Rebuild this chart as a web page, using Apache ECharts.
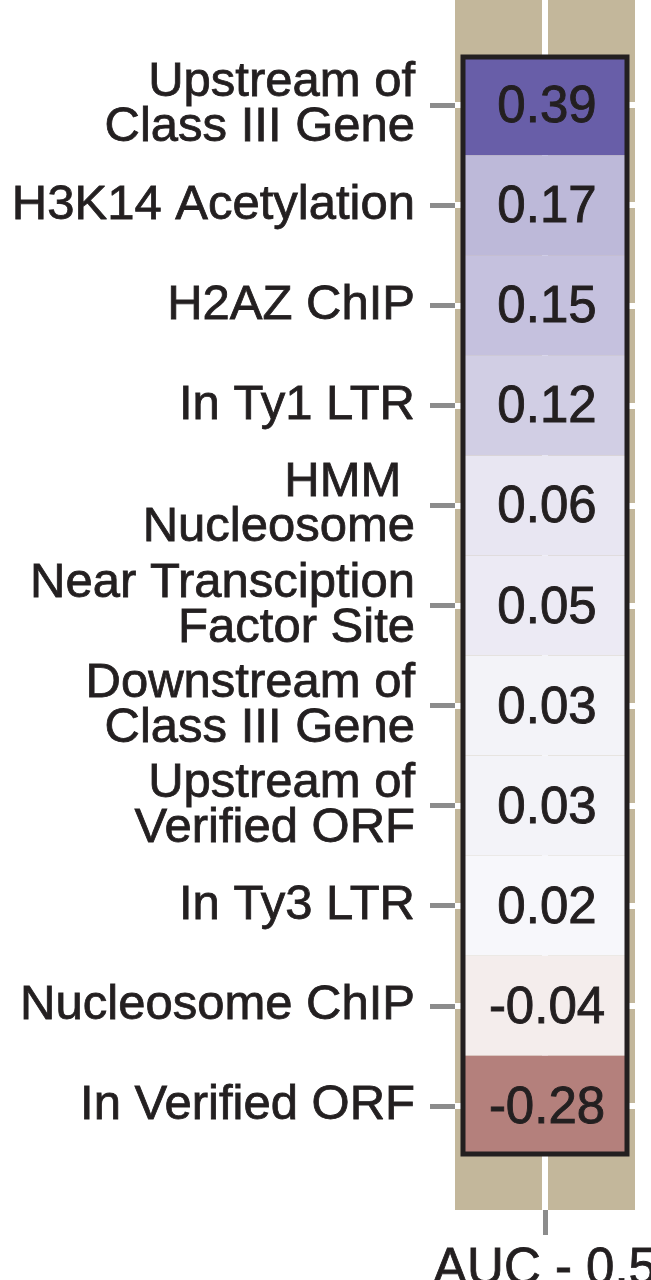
<!DOCTYPE html>
<html><head><meta charset="utf-8">
<script src="https://cdn.jsdelivr.net/npm/echarts@6/dist/echarts.min.js"></script>
<style>html,body{margin:0;padding:0;background:#fff}#chart{width:651px;height:1280px}</style>
</head><body><div id="chart"></div>
<script>
// ---- data ----
const categories = [
  "Upstream of\nClass III Gene",
  "H3K14 Acetylation",
  "H2AZ ChIP",
  "In Ty1 LTR",
  "HMM \nNucleosome",
  "Near Transciption\nFactor Site",
  "Downstream of\nClass III Gene",
  "Upstream of\nVerified ORF",
  "In Ty3 LTR",
  "Nucleosome ChIP",
  "In Verified ORF"
];
const values = [0.39, 0.17, 0.15, 0.12, 0.06, 0.05, 0.03, 0.03, 0.02, -0.04, -0.28];
const xLabels = ["AUC - 0.5"];
// ---------------

const FONT = "'Liberation Sans', Arial, Helvetica, sans-serif";
const TXT = '#231f20';
const rowIdx = categories.map((_, i) => i);
const cellData = values.map((v, i) => [0, i, v]);
const HALF = 84 / 90; // half width of the tile column in x-axis units

const chart = echarts.init(document.getElementById('chart'), null, {renderer: 'canvas'});
chart.setOption({
  backgroundColor: '#ffffff',
  animation: false,
  grid: {
    left: 455, width: 180, top: 0, height: 1210,
    show: true, backgroundColor: '#c3b79b', borderWidth: 0,
    containLabel: false, outerBoundsMode: 'none'
  },
  xAxis: {
    type: 'value', min: -1, max: 1,
    axisLine: {show: true, onZero: false, lineStyle: {color: 'rgba(0,0,0,0)', width: 0}},
    splitLine: {show: false},
    axisTick: {show: true, customValues: [0], length: 25, lineStyle: {color: '#8c8c8c', width: 5}},
    axisLabel: {show: true, customValues: [0], margin: 34, formatter: () => xLabels[0],
      fontFamily: FONT, fontSize: 51, color: TXT, textBorderColor: TXT, textBorderWidth: 0.8}
  },
  yAxis: {
    type: 'value', inverse: true, min: -1.05, max: 11.04,
    axisLine: {show: true, onZero: false, lineStyle: {color: 'rgba(0,0,0,0)', width: 0}},
    splitLine: {show: false},
    axisTick: {show: true, customValues: rowIdx, length: 25, lineStyle: {color: '#8c8c8c', width: 5}},
    axisLabel: {show: true, customValues: rowIdx, margin: 40,
      formatter: (v) => categories[Math.round(v)],
      fontFamily: FONT, fontSize: 49, lineHeight: 45, color: TXT, align: 'right',
      textBorderColor: TXT, textBorderWidth: 0.8}
  },
  visualMap: {
    show: false, type: 'continuous', min: -0.4, max: 0.4, dimension: 2, seriesIndex: 0,
    inRange: {color: ['#944a44', '#ffffff', '#645aa6']}
  },
  series: [
    {
      type: 'custom', z: 10,
      data: cellData,
      encode: {x: 0, y: 1},
      renderItem: function (params, api) {
        const r = api.value(1);
        const p0 = api.coord([-HALF, r - 0.5]);
        const p1 = api.coord([HALF, r + 0.5]);
        const c = api.coord([0, r]);
        return {
          type: 'group',
          children: [
            {type: 'rect', shape: {x: p0[0], y: p0[1], width: p1[0] - p0[0], height: p1[1] - p0[1]},
             style: {fill: api.visual('color'), stroke: null}},
            {type: 'text', style: {x: c[0] + 2, y: c[1] + 3, text: api.value(2).toFixed(2),
             align: 'center', verticalAlign: 'middle', fill: TXT,
             stroke: TXT, lineWidth: 0.9,
             font: '51px ' + FONT}}
          ]
        };
      },
      markLine: {
        silent: true, symbol: 'none', z: 2, animation: false,
        label: {show: false},
        lineStyle: {color: '#ffffff', width: 6, type: 'solid'},
        data: rowIdx.map(i => ({yAxis: i})).concat([{xAxis: 0}])
      }
    },
    {
      type: 'custom', z: 11,
      data: [[-HALF, -0.5, HALF, categories.length - 0.5]],
      renderItem: function (params, api) {
        const a = api.coord([api.value(0), api.value(1)]);
        const b = api.coord([api.value(2), api.value(3)]);
        return {type: 'rect', shape: {x: a[0] + 2, y: a[1] + 2, width: b[0] - a[0] - 4, height: b[1] - a[1] - 4},
          style: {fill: null, stroke: '#231f20', lineWidth: 5}};
      }
    }
  ]
});
</script>
</body></html>
